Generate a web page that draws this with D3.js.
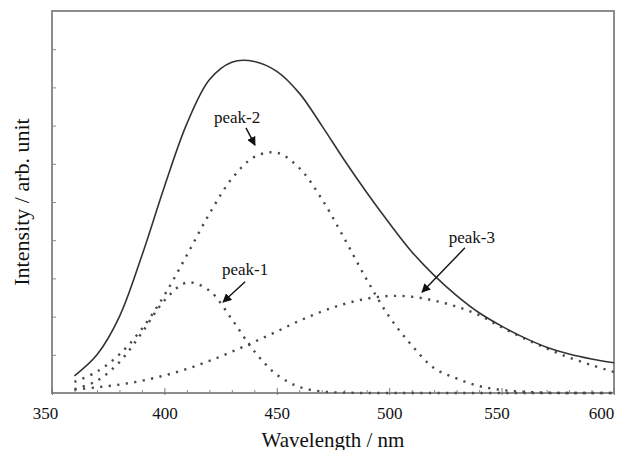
<!DOCTYPE html>
<html>
<head>
<meta charset="utf-8">
<script src="https://cdn.jsdelivr.net/npm/d3@7"></script>
<style>
  body { margin: 0; background: #fff; }
  svg text { font-family: "Liberation Serif", "Times New Roman", "DejaVu Serif", serif; }
</style>
</head>
<body>
<div class="container"></div>
<script>
// values (intensity in arb. units, 0-10 scale)
var wavelengths = [360, 370, 380, 390, 400, 410, 420, 430, 440, 450, 460, 470, 480,
                   490, 500, 510, 520, 530, 540, 550, 560, 570, 580, 590, 600];
var total = [0.45, 1.0, 2.0, 3.6, 5.4, 7.05, 8.2, 8.66, 8.68, 8.42, 7.85, 7.0, 6.1,
             5.25, 4.45, 3.7, 3.08, 2.55, 2.1, 1.75, 1.45, 1.2, 1.02, 0.89, 0.79];
var peak1 = [0.10, 0.32, 0.81, 1.58, 2.42, 2.89, 2.68, 1.93, 1.09, 0.48, 0.16, 0.04, 0.01,
             0, 0, 0, 0, 0, 0, 0, 0, 0, 0, 0, 0];
var peak2 = [0.29, 0.56, 1.01, 1.68, 2.56, 3.61, 4.69, 5.61, 6.18, 6.29, 5.89, 5.08, 4.05,
             2.97, 2.0, 1.25, 0.65, 0.38, 0.18, 0.08, 0.03, 0.01, 0, 0, 0];
var peak3 = [0.09, 0.15, 0.22, 0.32, 0.46, 0.63, 0.84, 1.08, 1.34, 1.61, 1.89, 2.13, 2.33,
             2.47, 2.54, 2.52, 2.42, 2.26, 2.04, 1.72, 1.43, 1.17, 0.93, 0.73, 0.55];
var xTicks = [350, 400, 450, 500, 550, 600];
var xMinor = [360, 370, 380, 390, 410, 420, 430, 440, 460, 470, 480, 490,
              510, 520, 530, 540, 560, 570, 580, 590];
var yTicks = [1, 2, 3, 4, 5, 6, 7, 8, 9];

// annotation labels: text position and arrow (from -> to), in data units
var labelNames = ["peak-1", "peak-2", "peak-3"];
var labelAt = [[435.9, 3.09], [432.3, 7.07], [536.8, 3.93]];
var arrowFrom = [[435.9, 2.91], [436.3, 6.94], [533.7, 3.80]];
var arrowTo = [[426.1, 2.38], [440.3, 6.49], [514.6, 2.64]];

var serif = '"Liberation Serif", "Times New Roman", "DejaVu Serif", serif';

var width = 617, height = 450;
var svg = d3.select(".container").append("svg")
    .attr("width", width)
    .attr("height", height);

var x = d3.scaleLinear().domain([350, 600]).range([52, 614]);
var y = d3.scaleLinear().domain([0, 10]).range([393, 11]);

var defs = svg.append("defs");
defs.append("marker")
    .attr("id", "head")
    .attr("viewBox", "0 0 10 10")
    .attr("refX", 9).attr("refY", 5)
    .attr("markerWidth", 9).attr("markerHeight", 9)
    .attr("markerUnits", "userSpaceOnUse")
    .attr("orient", "auto")
    .append("path")
    .attr("d", "M0,0 L10,5 L0,10 Z")
    .attr("fill", "#111");

// frame
svg.append("rect")
    .attr("x", x(350)).attr("y", y(10))
    .attr("width", x(600) - x(350)).attr("height", y(0) - y(10))
    .attr("fill", "none")
    .attr("stroke", "#8c8c8c")
    .attr("stroke-width", 2);

// x axis ticks (inside, crossing a little)
var xAxis = svg.append("g")
    .attr("transform", "translate(0," + y(0) + ")")
    .call(d3.axisBottom(x).tickValues(xTicks).tickSizeInner(-5).tickSizeOuter(0).tickPadding(14));
xAxis.attr("font-family", null);
xAxis.select(".domain").remove();
xAxis.selectAll(".tick line").attr("y1", 2).attr("stroke", "#777");
xAxis.selectAll(".tick text")
    .attr("font-size", 17)
    .attr("fill", "#111")
    .style("font-family", serif)
    .attr("dx", function(d) { return d == 350 ? -7 : (d == 600 ? -13 : (d == 550 ? -5 : 0)); });

var xMinorAxis = svg.append("g")
    .attr("transform", "translate(0," + y(0) + ")")
    .call(d3.axisBottom(x).tickValues(xMinor).tickSizeInner(-3).tickSizeOuter(0).tickFormat(""));
xMinorAxis.select(".domain").remove();
xMinorAxis.selectAll(".tick line").attr("y1", 1).attr("stroke", "#888");

// y axis ticks, no labels
var yAxis = svg.append("g")
    .attr("transform", "translate(" + x(350) + ",0)")
    .call(d3.axisLeft(y).tickValues(yTicks).tickSizeInner(-4).tickSizeOuter(0).tickFormat(""));
yAxis.select(".domain").remove();
yAxis.selectAll(".tick line").attr("stroke", "#888");

// curves
var series = wavelengths.map(function(w, i) {
    return { w: w, total: total[i], p1: peak1[i], p2: peak2[i], p3: peak3[i] };
});

function lineFor(key) {
    return d3.line()
        .x(function(d) { return x(d.w); })
        .y(function(d) { return y(d[key]); })
        .curve(d3.curveCatmullRom.alpha(0.5));
}

["p1", "p2", "p3"].forEach(function(key) {
    svg.append("path")
        .datum(series)
        .attr("fill", "none")
        .attr("stroke", "#4a4a4a")
        .attr("stroke-width", 2.4)
        .attr("stroke-dasharray", "2.2,6.4")
        .attr("d", lineFor(key));
});

svg.append("path")
    .datum(series)
    .attr("fill", "none")
    .attr("stroke", "#333")
    .attr("stroke-width", 1.6)
    .attr("d", lineFor("total"));

// annotations
labelNames.forEach(function(name, i) {
    svg.append("text")
        .attr("x", x(labelAt[i][0]))
        .attr("y", y(labelAt[i][1]))
        .attr("text-anchor", "middle")
        .attr("font-size", 17)
        .attr("fill", "#111")
        .style("font-family", serif)
        .text(name);
    svg.append("line")
        .attr("x1", x(arrowFrom[i][0])).attr("y1", y(arrowFrom[i][1]))
        .attr("x2", x(arrowTo[i][0])).attr("y2", y(arrowTo[i][1]))
        .attr("stroke", "#111")
        .attr("stroke-width", 1.4)
        .attr("marker-end", "url(#head)");
});

// axis titles
svg.append("text")
    .attr("x", (x(350) + x(600)) / 2)
    .attr("y", 447)
    .attr("text-anchor", "middle")
    .attr("font-size", 21)
    .attr("fill", "#111")
    .style("font-family", serif)
    .text("Wavelength / nm");

svg.append("text")
    .attr("transform", "translate(29," + (y(0) + y(10)) / 2 + ") rotate(-90)")
    .attr("text-anchor", "middle")
    .attr("font-size", 22)
    .attr("fill", "#111")
    .style("font-family", serif)
    .text("Intensity / arb. unit");
</script>
</body>
</html>
